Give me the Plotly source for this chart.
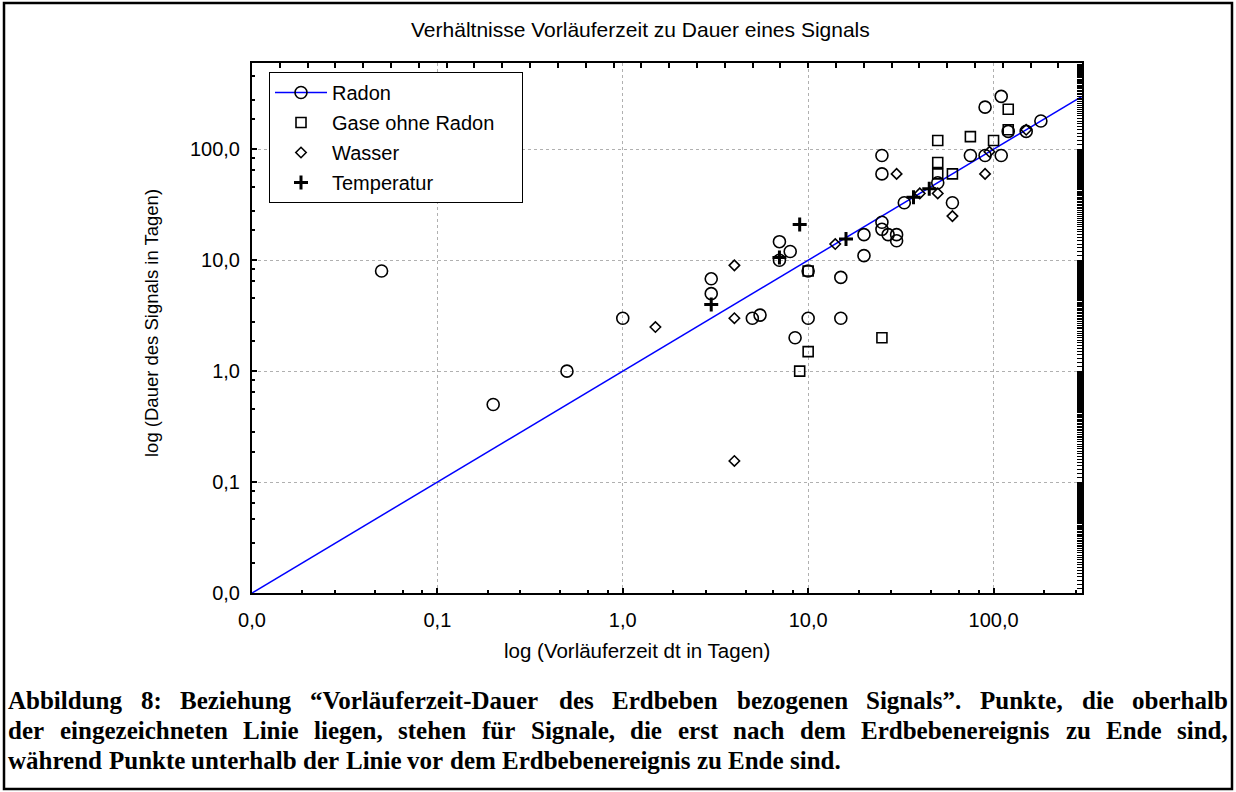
import numpy as np
import plotly.graph_objects as go

# ---------------- data ----------------
radon_x = [0.05, 0.2, 0.5, 1, 3, 3, 5, 5.5, 7, 7, 8, 8.5, 10, 10, 15, 15, 20, 20,
           25, 25, 25, 25, 27, 30, 30, 33, 50, 60, 75, 90, 90, 110, 110, 120, 150, 180]
radon_y = [8, 0.5, 1, 3, 6.8, 5, 3, 3.2, 14.7, 10, 12, 2, 8, 3, 7, 3, 17, 11,
           88, 60, 22, 19, 17, 17, 15, 33, 50, 33, 88, 88, 240, 300, 88, 145, 145, 180]

gase_x = [9, 10, 10, 25, 50, 50, 50, 60, 75, 100, 120, 120]
gase_y = [1, 1.5, 8, 2, 120, 76, 60, 60, 130, 120, 230, 150]

wasser_x = [1.5, 4, 4, 4, 14, 30, 40, 50, 60, 90, 95, 150]
wasser_y = [2.5, 9, 3, 0.155, 14, 60, 40, 40, 25, 60, 95, 150]

temp_x = [3, 7, 9, 16, 37, 45]
temp_y = [4, 10.6, 21, 15.5, 37, 44]

line_x = [0.01, 300]
line_y = [0.01, 300]

series_names = ["Radon", "Gase ohne Radon", "Wasser", "Temperatur"]

tick_vals = [0.01, 0.1, 1, 10, 100]
tick_text = ["0,0", "0,1", "1,0", "10,0", "100,0"]

title_text = "Verhältnisse Vorläuferzeit zu Dauer eines Signals"
x_title = "log (Vorläuferzeit dt in Tagen)"
y_title = "log (Dauer des Signals in Tagen)"
caption_lines = [
    "Abbildung 8: Beziehung \u201cVorläuferzeit-Dauer des Erdbeben bezogenen Signals\u201d. Punkte, die oberhalb",
    "der eingezeichneten Linie liegen, stehen für Signale, die erst nach dem Erdbebenereignis zu Ende sind,",
    "während Punkte unterhalb der Linie vor dem Erdbebenereignis zu Ende sind.",
]

# ---------------- layout geometry ----------------
W, H = 1236, 792
L, R, T, B = 252, 154, 63, 199
PW, PH = W - L - R, H - T - B
XMAX, YMAX = 300, 600


def pxx(p):
    return (p - L) / PW


def pxy(p):
    return (H - B - p) / PH


FONT = "Liberation Sans, Arial, sans-serif"
SERIF = "Liberation Serif, Times New Roman, serif"
PAD = "\u00a0" * 4   # widens the legend box a little

fig = go.Figure()

fig.add_trace(go.Scatter(x=line_x, y=line_y, mode="lines",
                         line=dict(color="#0000ff", width=1.5),
                         showlegend=False, hoverinfo="skip"))

mk_line = dict(color="black", width=1.6)
fig.add_trace(go.Scatter(x=radon_x, y=radon_y, mode="markers", name=series_names[0],
                         showlegend=False, legendgroup="a",
                         marker=dict(symbol="circle-open", size=12, color="black", line=mk_line)))
fig.add_trace(go.Scatter(x=[None], y=[None], mode="lines+markers", name=series_names[0],
                         legendgroup="a",
                         line=dict(color="#0000ff", width=1.3),
                         marker=dict(symbol="circle-open", size=12, color="black", line=mk_line)))
fig.add_trace(go.Scatter(x=gase_x, y=gase_y, mode="markers", name=series_names[1] + PAD,
                         legendgroup="b",
                         marker=dict(symbol="square-open", size=10, color="black", line=mk_line)))
fig.add_trace(go.Scatter(x=wasser_x, y=wasser_y, mode="markers", name=series_names[2],
                         legendgroup="c",
                         marker=dict(symbol="diamond-open", size=8, color="black", line=mk_line)))
fig.add_trace(go.Scatter(x=temp_x, y=temp_y, mode="markers", name=series_names[3],
                         legendgroup="d",
                         marker=dict(symbol="cross-thin-open", size=10, color="black",
                                     line=dict(color="black", width=3))))
# helper trace to activate the top / right frame axes
fig.add_trace(go.Scatter(x=[None], y=[None], xaxis="x2", yaxis="y2",
                         showlegend=False, hoverinfo="skip"))

minor_mult = [1.87, 2.8, 4.6, 6.5, 8.3]
decades = [0.01, 0.1, 1, 10, 100]
minor_vals = [d * m for d in decades for m in minor_mult]
top_vals = list(10 ** np.arange(-2, np.log10(XMAX) + 1e-9, 0.15))
right_vals = [d * m for d in decades for m in np.arange(1.0, 10.0, 0.1)]

axis_common = dict(type="log", showline=True, linecolor="black", linewidth=2,
                   ticks="inside", ticklen=5, tickwidth=1.5, tickcolor="black",
                   zeroline=False, tickfont=dict(family=FONT, size=20, color="black"))

fig.update_layout(
    width=W, height=H,
    margin=dict(l=L, r=R, t=T, b=B, pad=0),
    paper_bgcolor="white", plot_bgcolor="white",
    font=dict(family=FONT, color="black"),
    xaxis=dict(axis_common, range=[-2, np.log10(XMAX)],
               tickmode="array", tickvals=tick_vals, ticktext=tick_text,
               showgrid=True, gridcolor="#b0b0b0", griddash="dot", gridwidth=1,
               minor=dict(tickvals=minor_vals, ticks="inside", ticklen=3,
                          tickcolor="black", showgrid=False),
               ticklabelstandoff=8),
    yaxis=dict(axis_common, range=[-2, np.log10(YMAX)],
               tickmode="array", tickvals=tick_vals, ticktext=tick_text,
               showgrid=True, gridcolor="#b0b0b0", griddash="dot", gridwidth=1,
               minor=dict(tickvals=minor_vals, ticks="inside", ticklen=3,
                          tickcolor="black", showgrid=False),
               ticklabelstandoff=6),
    xaxis2=dict(type="log", overlaying="x", side="top", anchor="y",
                range=[-2, np.log10(XMAX)], tickmode="array", tickvals=top_vals,
                ticks="inside", ticklen=5, tickwidth=1.5, tickcolor="black",
                showticklabels=False, showgrid=False, zeroline=False,
                showline=True, linecolor="black", linewidth=2),
    yaxis2=dict(type="log", overlaying="y", side="right", anchor="x",
                range=[-2, np.log10(YMAX)], tickmode="array", tickvals=right_vals,
                ticks="inside", ticklen=5, tickwidth=1, tickcolor="black",
                showticklabels=False, showgrid=False, zeroline=False,
                showline=True, linecolor="black", linewidth=2),
    legend=dict(x=pxx(269), y=pxy(72), xanchor="left", yanchor="top",
                bgcolor="white", bordercolor="black", borderwidth=1,
                font=dict(family=FONT, size=20, color="black"),
                traceorder="grouped", tracegroupgap=1, itemwidth=52),
    showlegend=True,
)

# outer frame
fig.add_shape(type="rect", xref="paper", yref="paper",
              x0=pxx(4), x1=pxx(1232), y0=pxy(789), y1=pxy(3),
              line=dict(color="black", width=2.5), fillcolor="rgba(0,0,0,0)", layer="above")

# chart title and axis titles
fig.add_annotation(text=title_text, xref="paper", yref="paper", x=pxx(640), y=pxy(30),
                   xanchor="center", yanchor="middle", showarrow=False,
                   font=dict(family=FONT, size=21, color="black"))
fig.add_annotation(text=x_title, xref="paper", yref="paper", x=pxx(637), y=pxy(650),
                   xanchor="center", yanchor="middle", showarrow=False,
                   font=dict(family=FONT, size=20.5, color="black"))
fig.add_annotation(text=y_title, xref="paper", yref="paper", x=pxx(151), y=pxy(323),
                   xanchor="center", yanchor="middle", showarrow=False, textangle=-90,
                   font=dict(family=FONT, size=18.5, color="black"))

# caption with justified lines (Times-Bold metrics)
tw = {' ': 250, 'A': 722, 'B': 667, 'D': 722, 'E': 667, 'L': 667, 'P': 611, 'S': 556, 'V': 722,
      'a': 500, 'b': 556, 'c': 444, 'd': 556, 'e': 444, 'f': 333, 'g': 500, 'h': 556, 'i': 278,
      'k': 556, 'l': 278, 'm': 833, 'n': 556, 'o': 500, 'p': 556, 'r': 444, 's': 389, 't': 333,
      'u': 556, 'v': 500, 'w': 722, 'z': 444, 'ä': 500, 'ü': 556, ':': 333, '.': 250, ',': 250,
      '-': 333, '\u201c': 500, '\u201d': 500}
CAP = 25
cap_left, cap_right = 8, 1228
cap_y = [700, 730, 760]


def wwidth(word):
    return sum(tw.get(c, 500) for c in word) * CAP / 1000.0


for i, line in enumerate(caption_lines):
    words = line.split(" ")
    widths = [wwidth(w) for w in words]
    if i < len(caption_lines) - 1:
        gap = (cap_right - cap_left - sum(widths)) / (len(words) - 1)
    else:
        gap = tw[' '] * CAP / 1000.0
    xpos = cap_left
    for w, wd in zip(words, widths):
        fig.add_annotation(text=w, xref="paper", yref="paper", x=pxx(xpos - 1), y=pxy(cap_y[i]),
                           xanchor="left", yanchor="middle", showarrow=False, borderpad=0,
                           font=dict(family=SERIF, size=CAP, color="black", weight="bold"))
        xpos += wd + gap

fig.write_html("out.html")
